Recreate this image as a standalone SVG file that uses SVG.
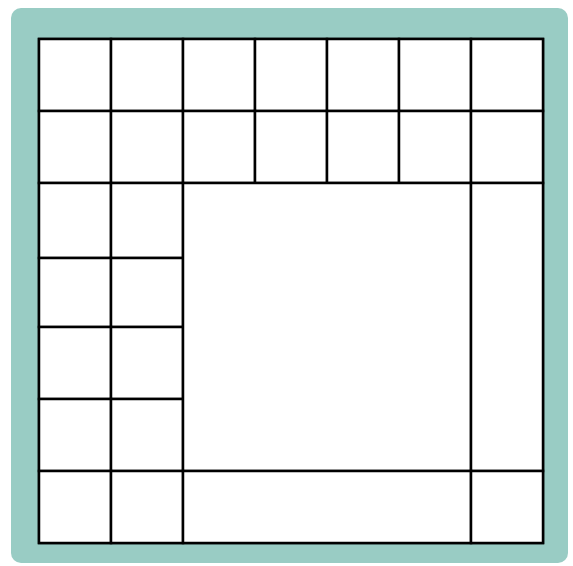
<svg xmlns="http://www.w3.org/2000/svg" width="573" height="566" viewBox="0 0 573 566">
<style>
.cell{fill:#ffffff;stroke:#000000;stroke-width:2.5}
</style>
<rect x="11" y="8" width="557" height="555" rx="10" fill="#99ccc4"/>
<g id="grid">
<rect class="cell" x="39" y="39" width="504" height="504"/>
<g id="row1">
<rect class="cell" x="39" y="39" width="72" height="72"/>
<rect class="cell" x="111" y="39" width="72" height="72"/>
<rect class="cell" x="183" y="39" width="72" height="72"/>
<rect class="cell" x="255" y="39" width="72" height="72"/>
<rect class="cell" x="327" y="39" width="72" height="72"/>
<rect class="cell" x="399" y="39" width="72" height="72"/>
<rect class="cell" x="471" y="39" width="72" height="72"/>
</g>
<g id="row2">
<rect class="cell" x="39" y="111" width="72" height="72"/>
<rect class="cell" x="111" y="111" width="72" height="72"/>
<rect class="cell" x="183" y="111" width="72" height="72"/>
<rect class="cell" x="255" y="111" width="72" height="72"/>
<rect class="cell" x="327" y="111" width="72" height="72"/>
<rect class="cell" x="399" y="111" width="72" height="72"/>
<rect class="cell" x="471" y="111" width="72" height="72"/>
</g>
<g id="left">
<rect class="cell" x="39" y="183" width="72" height="75"/>
<rect class="cell" x="111" y="183" width="72" height="75"/>
<rect class="cell" x="39" y="258" width="72" height="69"/>
<rect class="cell" x="111" y="258" width="72" height="69"/>
<rect class="cell" x="39" y="327" width="72" height="72"/>
<rect class="cell" x="111" y="327" width="72" height="72"/>
<rect class="cell" x="39" y="399" width="72" height="72"/>
<rect class="cell" x="111" y="399" width="72" height="72"/>
</g>
<rect id="center" class="cell" x="183" y="183" width="288" height="288"/>
<rect id="right" class="cell" x="471" y="183" width="72" height="288"/>
<g id="bottom">
<rect class="cell" x="39" y="471" width="72" height="72"/>
<rect class="cell" x="111" y="471" width="72" height="72"/>
<rect class="cell" x="183" y="471" width="288" height="72"/>
<rect class="cell" x="471" y="471" width="72" height="72"/>
</g>
</g>
</svg>
